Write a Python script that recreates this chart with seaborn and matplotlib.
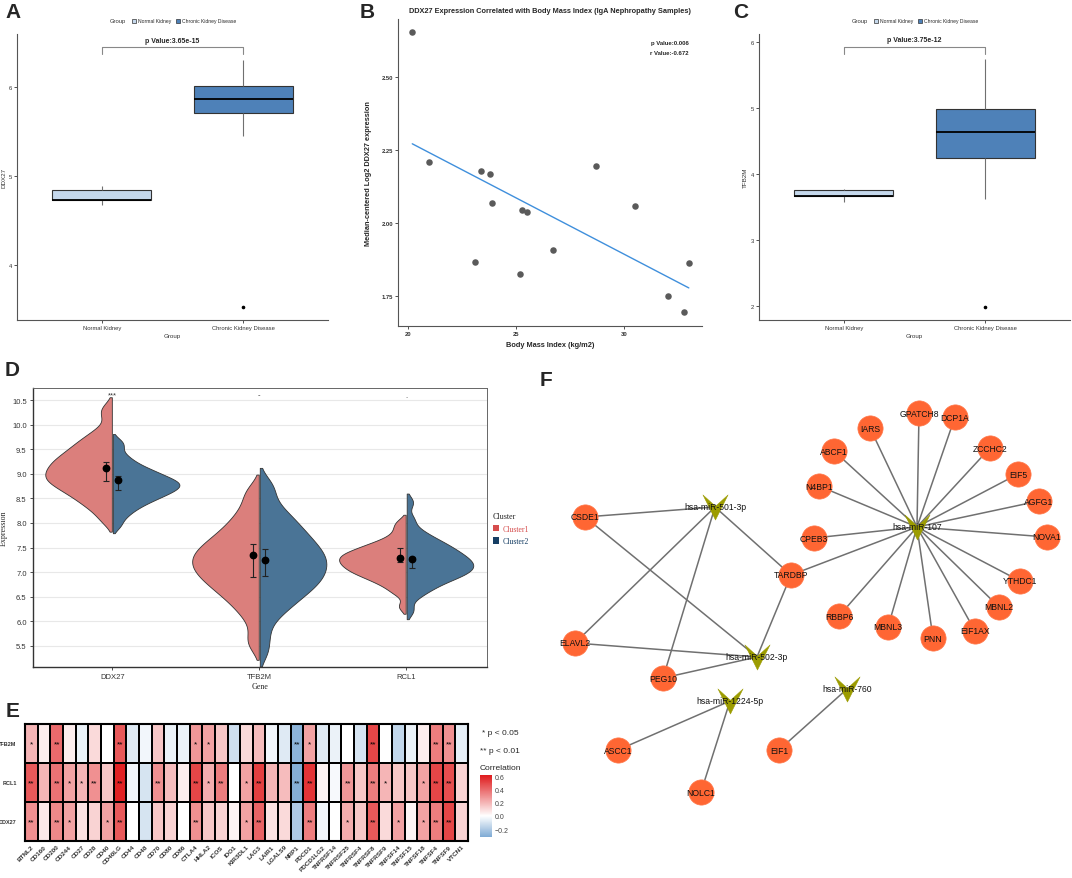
import numpy as np
import pandas as pd
import matplotlib
matplotlib.use("Agg")
import matplotlib.pyplot as plt
import seaborn as sns
from matplotlib.path import Path
from matplotlib.patches import Patch
from matplotlib.colors import LinearSegmentedColormap

# ---------------- data ----------------
box_groups = ["Normal Kidney", "Chronic Kidney Disease"]
ddx27_normal = [4.68, 4.73, 4.73, 4.84, 4.89]
ddx27_ckd = [3.53, 5.45, 5.71, 5.78, 5.87, 5.95, 6.02, 6.15, 6.31]
tfb2m_normal = [3.58, 3.66, 3.66, 3.76, 3.78]
tfb2m_ckd = [1.98, 3.62, 4.24, 4.45, 4.63, 4.80, 4.99, 5.35, 5.74]
p_text_a = "p Value:3.65e-15"
p_text_c = "p Value:3.75e-12"

bmi = [20.2, 20.99, 23.39, 23.80, 23.89, 23.09, 25.29, 25.49, 25.20, 26.70,
       28.70, 30.49, 32.01, 32.79, 32.99]
ddx27_bmi_expr = [2.657, 2.210, 2.177, 2.170, 2.068, 1.867, 2.044, 2.037, 1.826,
                  1.906, 2.195, 2.060, 1.750, 1.694, 1.862]
b_stats = ["p Value:0.006", "r Value:-0.672"]

violin_genes = ["DDX27", "TFB2M", "RCL1"]
clusters = ["Cluster1", "Cluster2"]
ddx27_c1 = [8.03, 8.19, 8.30, 8.38, 8.44, 8.51, 8.56, 8.61, 8.65, 8.70, 8.73, 8.77,
            8.81, 8.84, 8.87, 8.90, 8.93, 8.96, 8.99, 9.02, 9.06, 9.09, 9.12, 9.15, 9.19,
            9.22, 9.26, 9.29, 9.33, 9.37, 9.41, 9.46, 9.50, 9.56, 9.61, 9.67, 9.74, 9.82,
            9.94, 10.19, 10.35]
ddx27_c2 = [7.94, 8.09, 8.19, 8.26, 8.32, 8.37, 8.41, 8.45, 8.48, 8.52, 8.54, 8.57,
            8.60, 8.62, 8.64, 8.67, 8.69, 8.71, 8.73, 8.75, 8.77, 8.79, 8.81, 8.83, 8.85,
            8.87, 8.89, 8.92, 8.94, 8.97, 9.00, 9.03, 9.06, 9.09, 9.14, 9.18, 9.24, 9.31,
            9.40, 9.55, 9.66]
tfb2m_c1 = [5.5, 5.69, 5.99, 6.17, 6.29, 6.39, 6.48, 6.55, 6.62, 6.68, 6.73, 6.79,
            6.84, 6.89, 6.93, 6.97, 7.02, 7.06, 7.10, 7.14, 7.18, 7.22, 7.26, 7.30, 7.34,
            7.38, 7.42, 7.46, 7.51, 7.56, 7.60, 7.66, 7.71, 7.78, 7.84, 7.92, 8.00, 8.10,
            8.21, 8.35, 8.54, 8.70]
tfb2m_c2 = [5.38, 5.7, 6.0, 6.17, 6.28, 6.37, 6.45, 6.53, 6.59, 6.65, 6.70, 6.76,
            6.81, 6.86, 6.90, 6.95, 7.00, 7.04, 7.09, 7.13, 7.18, 7.22, 7.27, 7.31, 7.36,
            7.40, 7.45, 7.50, 7.55, 7.61, 7.66, 7.72, 7.78, 7.85, 7.92, 7.99, 8.08, 8.17,
            8.27, 8.43, 8.65, 8.82]
rcl1_c1 = [6.3, 6.56, 6.66, 6.74, 6.80, 6.84, 6.88, 6.93, 6.96, 6.98, 7.01, 7.04,
           7.07, 7.10, 7.12, 7.14, 7.17, 7.19, 7.22, 7.24, 7.26, 7.29, 7.31, 7.33, 7.36,
           7.38, 7.40, 7.43, 7.47, 7.49, 7.53, 7.57, 7.61, 7.67, 7.76, 7.89, 8.02]
rcl1_c2 = [6.22, 6.49, 6.6, 6.68, 6.73, 6.79, 6.84, 6.87, 6.91, 6.94, 6.97, 7.00,
           7.03, 7.05, 7.08, 7.11, 7.13, 7.16, 7.19, 7.21, 7.24, 7.27, 7.30, 7.33, 7.36,
           7.39, 7.43, 7.47, 7.50, 7.54, 7.59, 7.64, 7.69, 7.77, 7.87, 8.08, 8.42]
c1_point = [9.12, 7.35, 7.29]
c1_low = [8.86, 6.90, 7.20]
c1_high = [9.24, 7.57, 7.49]
c2_point = [8.88, 7.24, 7.27]
c2_low = [8.67, 6.92, 7.08]
c2_high = [8.95, 7.47, 7.30]
sig_marks = ["***", "-", "."]

immune_genes = ["BTNL2", "CD160", "CD200", "CD244", "CD27", "CD28", "CD40", "CD40LG",
                "CD44", "CD48", "CD70", "CD80", "CD86", "CTLA4", "HHLA2", "ICOS", "IDO1",
                "KIR3DL1", "LAG3", "LAIR1", "LGALS9", "NRP1", "PDCD1", "PDCD1LG2",
                "TNFRSF14", "TNFRSF25", "TNFRSF4", "TNFRSF8", "TNFRSF9", "TNFSF14",
                "TNFSF15", "TNFSF18", "TNFSF4", "TNFSF9", "VTCN1"]
heat_rows = ["TFB2M", "RCL1", "DDX27"]
corr_tfb2m = [0.20, 0.05, 0.40, 0.05, -0.05, 0.10, 0.00, 0.45, -0.08, -0.03, 0.15, -0.05,
              -0.05, 0.28, 0.25, 0.15, -0.12, 0.10, 0.18, -0.03, -0.08, -0.28, 0.25,
              -0.08, -0.05, 0.00, -0.10, 0.50, 0.00, -0.15, -0.05, 0.05, 0.35, 0.30, -0.06]
corr_rcl1 = [0.45, 0.20, 0.38, 0.25, 0.20, 0.30, 0.15, 0.60, -0.03, -0.10, 0.30, 0.18,
             0.05, 0.50, 0.22, 0.35, 0.00, 0.25, 0.52, 0.20, 0.18, -0.30, 0.55, 0.03,
             -0.02, 0.28, 0.15, 0.35, 0.20, 0.15, 0.15, 0.25, 0.50, 0.48, 0.12]
corr_ddx27 = [0.30, 0.06, 0.32, 0.25, 0.08, 0.12, 0.25, 0.45, 0.00, -0.10, 0.15, 0.12,
              0.00, 0.30, 0.15, 0.12, 0.03, 0.25, 0.42, 0.08, 0.10, -0.20, 0.35, -0.03,
              0.00, 0.22, 0.15, 0.45, 0.10, 0.25, 0.03, 0.25, 0.35, 0.50, 0.12]
sig_tfb2m = ["*", "", "**", "", "", "", "", "**", "", "", "", "", "", "*", "*", "", "",
             "", "", "", "", "**", "*", "", "", "", "", "**", "", "", "", "", "**", "**", ""]
sig_rcl1 = ["**", "", "**", "*", "*", "**", "", "**", "", "", "**", "", "", "**", "*",
            "**", "", "*", "**", "", "", "**", "**", "", "", "**", "", "**", "*", "", "",
            "*", "**", "**", ""]
sig_ddx27 = ["**", "", "**", "*", "", "", "*", "**", "", "", "", "", "", "**", "", "", "",
             "*", "**", "", "", "", "**", "", "", "*", "", "**", "", "*", "", "*", "**",
             "**", ""]

net_names = ["hsa-miR-501-3p", "hsa-miR-502-3p", "hsa-miR-107", "hsa-miR-1224-5p",
             "hsa-miR-760", "CSDE1", "ELAVL2", "PEG10", "TARDBP", "CPEB3", "N4BP1",
             "ABCF1", "IARS", "GPATCH8", "DCP1A", "ZCCHC2", "EIF5", "AGFG1", "NOVA1",
             "YTHDC1", "MBNL2", "EIF1AX", "PNN", "MBNL3", "RBBP6", "ASCC1", "NOLC1", "EIF1"]
net_kind = ["mirna"] * 5 + ["gene"] * 23
net_x = [715, 757, 917, 730, 847, 585, 575, 663, 791, 814, 819, 834, 870, 919, 955, 990,
         1018, 1039, 1047, 1020, 999, 975, 933, 888, 839, 618, 701, 779]
net_y = [508, 658, 528, 702, 690, 518, 644, 679, 576, 539, 487, 452, 429, 414, 418, 449,
         475, 502, 538, 582, 608, 632, 639, 628, 617, 751, 793, 751]
net_edges = [("hsa-miR-501-3p", "CSDE1"), ("hsa-miR-501-3p", "ELAVL2"),
             ("hsa-miR-501-3p", "PEG10"), ("hsa-miR-501-3p", "TARDBP"),
             ("hsa-miR-502-3p", "CSDE1"), ("hsa-miR-502-3p", "ELAVL2"),
             ("hsa-miR-502-3p", "PEG10"), ("hsa-miR-502-3p", "TARDBP"),
             ("hsa-miR-107", "TARDBP"), ("hsa-miR-107", "CPEB3"), ("hsa-miR-107", "N4BP1"),
             ("hsa-miR-107", "ABCF1"), ("hsa-miR-107", "IARS"), ("hsa-miR-107", "GPATCH8"),
             ("hsa-miR-107", "DCP1A"), ("hsa-miR-107", "ZCCHC2"), ("hsa-miR-107", "EIF5"),
             ("hsa-miR-107", "AGFG1"), ("hsa-miR-107", "NOVA1"), ("hsa-miR-107", "YTHDC1"),
             ("hsa-miR-107", "MBNL2"), ("hsa-miR-107", "EIF1AX"), ("hsa-miR-107", "PNN"),
             ("hsa-miR-107", "MBNL3"), ("hsa-miR-107", "RBBP6"),
             ("hsa-miR-1224-5p", "ASCC1"), ("hsa-miR-1224-5p", "NOLC1"),
             ("hsa-miR-760", "EIF1")]

# ---------------- figure ----------------
sns.set_theme(style="white")
plt.rcParams["font.family"] = ["Liberation Sans", "DejaVu Sans"]
plt.rcParams["axes.unicode_minus"] = True

W, H = 1072, 879
fig = plt.figure(figsize=(W / 100, H / 100), dpi=100)


def ax_px(l, t, r, b):
    return fig.add_axes([l / W, 1 - b / H, (r - l) / W, (b - t) / H])


def ftext(x, y, s, **kw):
    return fig.text(x / W, 1 - y / H, s, **kw)


# panel letters
for lab, x, y in [("A", 5, 18), ("B", 360, 18), ("C", 733, 18), ("D", 5, 376),
                  ("E", 6, 717), ("F", 540, 386)]:
    ftext(x, y, lab, fontsize=15, fontweight="bold", va="baseline", ha="left")

box_colors = ["#c5d8ec", "#4e81b8"]


def box_panel(ax, normal, ckd, col, ylim, yticks, ptxt, br_low, br_top, leg_cx, grp_right):
    df = pd.DataFrame({"Group": [box_groups[0]] * len(normal) + [box_groups[1]] * len(ckd),
                       col: normal + ckd})
    sns.boxplot(data=df, x="Group", y=col, hue="Group", order=box_groups,
                hue_order=box_groups, palette=box_colors, saturation=1, width=0.7,
                linewidth=0.8, linecolor="#333333", legend=False, ax=ax, fliersize=1.6,
                flierprops=dict(marker="o", markerfacecolor="black", markeredgecolor="black"),
                medianprops=dict(color="black", linewidth=1.3),
                whiskerprops=dict(color="#707070", linewidth=0.8),
                capprops=dict(linewidth=0))
    ax.set_xlim(-0.6, 1.6)
    ax.set_ylim(*ylim)
    ax.set_yticks(yticks)
    ax.set_yticklabels([str(t) for t in yticks])
    for s in ["top", "right"]:
        ax.spines[s].set_visible(False)
    for s in ["left", "bottom"]:
        ax.spines[s].set_color("#555555")
        ax.spines[s].set_linewidth(0.8)
    ax.tick_params(axis="both", labelsize=4.2, colors="#333333", length=2, width=0.6,
                   pad=1.5, left=True, bottom=True)
    ax.set_ylabel(col, fontsize=4.5, color="#333333", labelpad=2)
    ax.set_xlabel("Group", fontsize=4.5, color="#333333", labelpad=2)
    ax.plot([0, 0, 1, 1], [br_low, br_top, br_top, br_low], color="#888888", lw=0.8)
    ax.text(0.5, br_top + (ylim[1] - ylim[0]) * 0.012, ptxt, ha="center", va="bottom",
            fontsize=5, fontweight="bold")
    handles = [Patch(facecolor=c, edgecolor="#333333", linewidth=0.5) for c in box_colors]
    fig.legend(handles, box_groups, ncol=2, loc="center", frameon=False, fontsize=3.6,
               handlelength=0.9, handleheight=0.9, handletextpad=0.4, columnspacing=0.8,
               bbox_to_anchor=(leg_cx / W, 1 - 22 / H))
    ftext(grp_right, 22, "Group", fontsize=4.2, ha="right", va="center", color="#333333")


# Panel A
axa = ax_px(17, 35, 328, 321)
box_panel(axa, ddx27_normal, ddx27_ckd, "DDX27", (3.38, 6.6), [4, 5, 6], p_text_a,
          6.37, 6.45, 184, 126)

# Panel C
axc = ax_px(759, 35, 1070, 321)
box_panel(axc, tfb2m_normal, tfb2m_ckd, "TFB2M", (1.79, 6.12), [2, 3, 4, 5, 6], p_text_c,
          5.82, 5.93, 926, 868)

# Panel B
axb = ax_px(398, 20, 702, 327)
df_b = pd.DataFrame({"bmi": bmi, "expr": ddx27_bmi_expr})
sns.regplot(data=df_b, x="bmi", y="expr", ci=None, ax=axb,
            scatter_kws=dict(s=22, color="#5a5a5a", linewidths=0, alpha=1),
            line_kws=dict(color="#3f8fdc", lw=1.0))
axb.set_xlim(19.54, 33.6)
axb.set_ylim(1.647, 2.70)
axb.set_xticks([20, 25, 30])
axb.set_yticks([1.75, 2.00, 2.25, 2.50])
axb.set_yticklabels(["1.75", "2.00", "2.25", "2.50"])
for s in ["top", "right"]:
    axb.spines[s].set_visible(False)
for s in ["left", "bottom"]:
    axb.spines[s].set_color("#555555")
    axb.spines[s].set_linewidth(0.8)
axb.tick_params(axis="both", labelsize=4.2, colors="#333333", length=2, width=0.6, pad=1.5,
                left=True, bottom=True)
for t in axb.get_xticklabels() + axb.get_yticklabels():
    t.set_fontweight("bold")
axb.set_xlabel("Body Mass Index (kg/m2)", fontsize=5.3, fontweight="bold", labelpad=4)
axb.set_ylabel("Median-centered Log2 DDX27 expression", fontsize=5.3, fontweight="bold",
               labelpad=7)
axb.set_title("DDX27 Expression Correlated with Body Mass Index (IgA Nephropathy Samples)",
              fontsize=5.3, fontweight="bold", pad=5)
axb.text(0.957, 0.925, b_stats[0], transform=axb.transAxes, ha="right", va="center",
         fontsize=4.3, fontweight="bold")
axb.text(0.957, 0.892, b_stats[1], transform=axb.transAxes, ha="right", va="center",
         fontsize=4.3, fontweight="bold")

# Panel D
axd = ax_px(33, 389, 487, 668)
vio_vals = {("DDX27", "Cluster1"): ddx27_c1, ("DDX27", "Cluster2"): ddx27_c2,
            ("TFB2M", "Cluster1"): tfb2m_c1, ("TFB2M", "Cluster2"): tfb2m_c2,
            ("RCL1", "Cluster1"): rcl1_c1, ("RCL1", "Cluster2"): rcl1_c2}
rows = []
for (g, c), vals in vio_vals.items():
    for v in vals:
        rows.append((g, c, v))
df_d = pd.DataFrame(rows, columns=["Gene", "Cluster", "Expression"])
axd.yaxis.grid(True, color="#e8e8e8", lw=0.8)
axd.set_axisbelow(True)
sns.violinplot(data=df_d, x="Gene", y="Expression", hue="Cluster", order=violin_genes,
               hue_order=clusters, split=True, inner=None, cut=1.5, density_norm="width",
               bw_adjust=0.55, width=0.92, gap=0.015, palette=["#db7f7c", "#4a7496"],
               saturation=1, linewidth=0.6, linecolor="#333333", legend=False, ax=axd)
xpos = np.arange(len(violin_genes))
for pts, lo, hi, off in [(c1_point, c1_low, c1_high, -0.04), (c2_point, c2_low, c2_high, 0.04)]:
    pts_a, lo_a, hi_a = np.array(pts), np.array(lo), np.array(hi)
    axd.errorbar(xpos + off, pts_a, yerr=[pts_a - lo_a, hi_a - pts_a], fmt="o", color="black",
                 ms=4.6, ecolor="#222222", elinewidth=0.8, capsize=2.4, capthick=0.8,
                 zorder=5)
for i, m in enumerate(sig_marks):
    axd.text(i, 10.6, m, ha="center", va="center", fontsize=5.5, color="#333333")
axd.set_xlim(-0.54, 2.55)
axd.set_ylim(5.07, 10.745)
yt = [5.5, 6.0, 6.5, 7.0, 7.5, 8.0, 8.5, 9.0, 9.5, 10.0, 10.5]
axd.set_yticks(yt)
axd.set_yticklabels([f"{v:.1f}" for v in yt])
for s in ["top", "right"]:
    axd.spines[s].set_color("#666666")
    axd.spines[s].set_linewidth(0.7)
for s in ["left", "bottom"]:
    axd.spines[s].set_color("#333333")
    axd.spines[s].set_linewidth(1.0)
axd.tick_params(axis="both", labelsize=5.5, colors="#333333", length=2.5, width=0.6,
                pad=2, left=True, bottom=True)
axd.set_ylabel("Expression", fontsize=5.8, family="Liberation Serif", labelpad=3)
axd.set_xlabel("Gene", fontsize=5.8, family="Liberation Serif", labelpad=1)
d_handles = [Patch(facecolor="#d64d4d", edgecolor="none"),
             Patch(facecolor="#163e64", edgecolor="none")]
leg = fig.legend(d_handles, clusters, loc="upper left", frameon=False,
                 bbox_to_anchor=(486 / W, 1 - 506 / H), title="Cluster",
                 prop=dict(family="Liberation Serif", size=5.6),
                 title_fontproperties=dict(family="Liberation Serif", size=5.8),
                 labelcolor=["#d64d4d", "#163e64"], handlelength=0.8, handleheight=0.9,
                 handletextpad=0.5, labelspacing=0.6, alignment="left")

# Panel E
axe = ax_px(25, 725, 468, 842)
cax = ax_px(480, 776, 492, 838)
corr_df = pd.DataFrame([corr_tfb2m, corr_rcl1, corr_ddx27], index=heat_rows,
                       columns=immune_genes)
annot = np.array([sig_tfb2m, sig_rcl1, sig_ddx27])
cmap = LinearSegmentedColormap.from_list(
    "corr", [(0.0, "#7eaad4"), (0.34, "#ffffff"), (1.0, "#df1a1c")])
sns.heatmap(corr_df, ax=axe, cmap=cmap, vmin=-0.32, vmax=0.62, linewidths=1.3,
            linecolor="black", annot=annot, fmt="", cbar_ax=cax,
            annot_kws=dict(fontsize=6, color="black"),
            xticklabels=immune_genes, yticklabels=heat_rows)
for s in axe.spines.values():
    s.set_visible(True)
    s.set_color("black")
    s.set_linewidth(1.5)
axe.tick_params(axis="both", length=0, pad=2)
axe.set_xticklabels(immune_genes, rotation=45, ha="right", rotation_mode="anchor",
                    fontsize=4.6, fontweight="bold", color="#333333")
axe.set_yticklabels(heat_rows, rotation=0, fontsize=4.0, fontweight="bold",
                    color="#333333")
axe.tick_params(axis="y", pad=6)
axe.set_xlabel("")
axe.set_ylabel("")
cb = axe.collections[0].colorbar
cb.outline.set_visible(False)
cb.set_ticks([-0.2, 0.0, 0.2, 0.4, 0.6])
cb.set_ticklabels(["\u22120.2", "0.0", "0.2", "0.4", "0.6"])
cax.tick_params(labelsize=5, length=0, pad=2, colors="#444444")
ftext(482, 734, "* p < 0.05", fontsize=6, va="center", ha="left")
ftext(480, 752, "** p < 0.01", fontsize=6, va="center", ha="left")
ftext(480, 769, "Correlation", fontsize=6, va="center", ha="left")

# Panel F network
axf = fig.add_axes([560 / W, 0, 512 / W, 479 / H])
pos = {n: (x, y) for n, x, y in zip(net_names, net_x, net_y)}
for a, b in net_edges:
    axf.plot([pos[a][0], pos[b][0]], [pos[a][1], pos[b][1]], color="#707070", lw=1.1,
             zorder=1, solid_capstyle="butt")
v_marker = Path([(-1, 1), (0, 0.1), (1, 1), (0, -1), (-1, 1)],
                [Path.MOVETO, Path.LINETO, Path.LINETO, Path.LINETO, Path.CLOSEPOLY])
df_f = pd.DataFrame({"name": net_names, "kind": net_kind, "x": net_x, "y": net_y})
genes_f = df_f[df_f.kind == "gene"]
mirs_f = df_f[df_f.kind == "mirna"]
sns.scatterplot(data=genes_f, x="x", y="y", ax=axf, s=330, color="#ff6633",
                edgecolor="#ff7a4d", linewidth=0.5, zorder=2, legend=False)
sns.scatterplot(data=mirs_f, x="x", y="y", ax=axf, s=330, color="#9c9c00",
                marker=v_marker, edgecolor="#9c9c00", linewidth=0.3, zorder=2,
                legend=False)
for n, x, y in zip(net_names, net_x, net_y):
    axf.text(x, y, n, ha="center", va="center", fontsize=6.2, color="#111111", zorder=3)
axf.set_xlim(560, 1072)
axf.set_ylim(879, 400)
axf.axis("off")

fig.savefig("out.png", dpi=100)
